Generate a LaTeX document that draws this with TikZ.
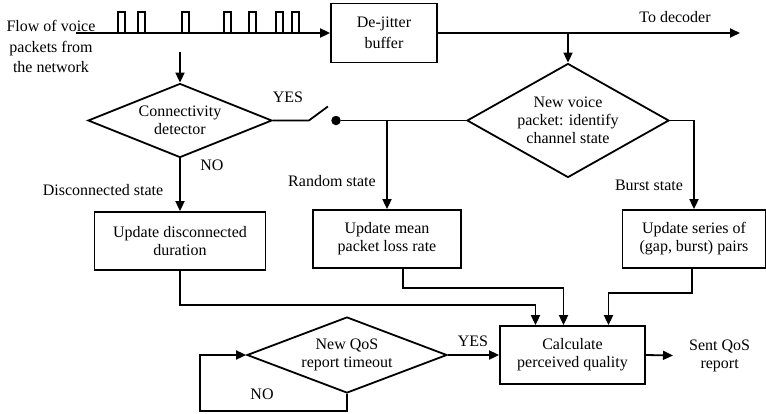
\documentclass[tikz,border=0pt]{standalone}
\usepackage{fontspec}
\setmainfont{Liberation Serif}
\usetikzlibrary{arrows.meta, calc}
\usetikzlibrary{shapes.geometric}
\tikzstyle{box} = [draw, line width=1.8pt, minimum height=58pt,
    inner sep=2pt, align=center, font=\fontsize{16}{18}\selectfont]
\tikzstyle{decision} = [draw, diamond, line width=1.8pt, inner sep=0pt,
    align=center, font=\fontsize{16}{18}\selectfont]
\tikzstyle{txt} = [inner sep=0pt, align=center, font=\fontsize{16}{18}\selectfont]
\tikzstyle{wire} = [line width=1.8pt]
\tikzstyle{arr} = [line width=1.8pt, -{Triangle[length=10pt,width=9pt]}]

\begin{document}
\begin{tikzpicture}[x=1pt,y=-1pt]
\useasboundingbox (0,0) rectangle (766,413);

    % 1. Incoming packets and the buffer
    \node[txt, font=\fontsize{16}{20.5}\selectfont] (flow) at (51,46.5) {Flow of voice\\packets from\\the network};
    \node[box, minimum width=106pt, minimum height=59pt] (buf) at (384,33) {De-jitter\\[3pt]buffer};
    \coordinate (src) at (76,33);
    \draw[arr] (src) -- (buf.west);
    \foreach \x in {118,138,182,224,249,276,292}
        \draw[wire] (\x,33) |- (\x+7,12) -- (\x+7,33);

    \coordinate (dec) at (740,33);
    \draw[arr] (buf.east) -- (dec);
    \node[txt] (todec) at (675,17) {To decoder};

%%% CONNECTIVITY
    \coordinate (tap) at (180,52);
    \node[decision, minimum width=184pt, minimum height=74pt, aspect=2.49] (cd) at (180,120.5) {Connectivity\\detector};
    \draw[arr] (tap) -- (cd.north);

    % switch on the YES branch
    \node[circle, fill, inner sep=0pt, minimum size=9.5pt] (dot) at (336,120.5) {};
    \draw[wire] (cd.east) -- ++(36,0) -- ++(19,-14);
    \node[txt] (yes1) at (288,97) {YES};

    \node[box, minimum width=171pt] (dis) at (180,241) {Update disconnected\\duration};
    \draw[arr] (cd.south) -- (dis.north);
    \node[txt] (no1) at (212,165) {NO};
    \node[txt] (discst) at (103,190) {Disconnected state};

%%% CHANNEL STATE
    \node[decision, minimum width=202pt, minimum height=114pt, aspect=1.77] (nv) at (568,120.5) {New voice\\packet: identify\\channel state};
    \draw[arr] (buf.east -| nv.north) -- (nv.north);
    \draw[wire] (dot) -- (nv.west);

    % Random state
    \node[box, minimum width=148pt] (mean) at (387,239) {Update mean\\packet loss rate};
    \draw[arr] (dot -| mean.north) -- (mean.north);
    \node[txt] (randst) at (332,181) {Random state};

    % Burst state
    \node[box, minimum width=143pt] (ser) at (694,239) {Update series of\\(gap, burst) pairs};
    \draw[arr] (nv.east) -| (ser.north);
    \node[txt] (burstst) at (649,185) {Burst state};

%%% QUALITY
    \node[box, minimum width=145pt] (qual) at (572.5,355) {Calculate\\perceived quality};
    \draw[arr] (dis.south) |- ++(0,34) -| ([xshift=-37pt]qual.north);
    \draw[arr] ([xshift=16pt]mean.south) -- ++(0,19) -| ([xshift=-9pt]qual.north);
    \draw[arr] ([xshift=-2pt]ser.south) -- ++(0,24) -| ([xshift=36pt]qual.north);

    \node[decision, minimum width=200pt, minimum height=76pt, aspect=2.63] (qos) at (347,355) {New QoS\\report timeout};
    \draw[arr] (qos.east) -- (qual.west);
    \node[txt] (yes2) at (473,341) {YES};
    \draw[arr] (qos.south) |- (200,411) |- (qos.west);
    \node[txt] (no2) at (262,394) {NO};

    \node[txt, anchor=west, inner xsep=16pt] (rep) at (673,355.5) {Sent QoS\\report};
    \draw[arr] (qual.east) -- (rep.west);

\end{tikzpicture}
\end{document}
